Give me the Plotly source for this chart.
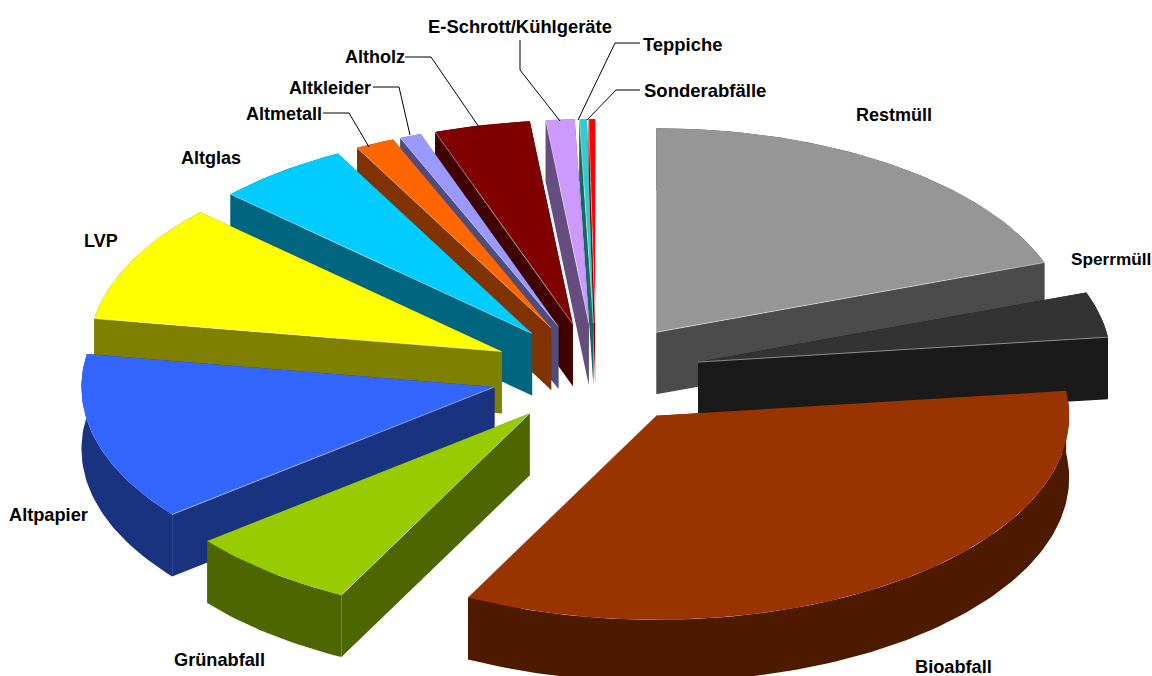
import math
import plotly.graph_objects as go

categories = ["Restmüll", "Sperrmüll", "Bioabfall", "Grünabfall", "Altpapier", "LVP", "Altglas",
              "Altmetall", "Altkleider", "Altholz", "E-Schrott/Kühlgeräte", "Teppiche", "Sonderabfälle"]
values = [19.45, 3.6, 34.48, 6.72, 13.33, 9.39, 5.24, 1.54, 0.84, 3.75, 1.12, 0.29, 0.25]
top_colors = ["#969696", "#333333", "#993300", "#99CC00", "#3366FF", "#FFFF00", "#00CCFF",
              "#FF6600", "#9999FF", "#800000", "#CC99FF", "#33CCCC", "#FF0000"]
side_colors = ["#4B4B4B", "#1A1A1A", "#4D1A00", "#4D6600", "#1A3380", "#808000", "#006680",
               "#803300", "#4D4D80", "#400000", "#664D80", "#1A6666", "#800000"]

label_x = [856, 1071, 915, 174, 9, 84, 181, 246, 289, 345, 428, 643, 644]
label_y = [115, 259, 667, 660, 515, 241, 158, 114, 88, 57, 26, 44, 90]
label_size = [18, 17.2, 18.2, 18.2, 18.2, 18, 18, 18, 18, 18, 18.4, 18.4, 18.5]
leaders = {
    "Altmetall": ([323, 349, 369], [113, 113, 147]),
    "Altkleider": ([373, 399, 410], [87, 87, 135]),
    "Altholz": ([405, 431, 479], [57, 57, 127]),
    "E-Schrott/Kühlgeräte": ([520, 520, 560], [40, 70, 121]),
    "Teppiche": ([640, 615, 578], [43, 43, 120]),
    "Sonderabfälle": ([640, 616, 587], [90, 90, 120]),
}

CX, CY, RX, RY = 596, 374, 413, 204
EX, EY, DEPTH = 105, 51, 62

total = sum(values)
fig = go.Figure()


def poly(xs, ys, color):
    fig.add_trace(go.Scatter(x=xs, y=ys, mode="lines", fill="toself", fillcolor=color,
                             line=dict(width=0, color=color), hoverinfo="skip", showlegend=False))


slices = []
cum = 0.0
for name, v, tc, sc in zip(categories, values, top_colors, side_colors):
    a0 = cum / total * 2 * math.pi
    cum += v
    a1 = cum / total * 2 * math.pi
    slices.append((name, a0, a1, tc, sc))

for name, a0, a1, tc, sc in sorted(slices, key=lambda s: -math.cos((s[1] + s[2]) / 2)):
    mid = (a0 + a1) / 2
    ax = CX + EX * math.sin(mid)
    ay = CY - EY * math.cos(mid)
    n = max(3, int((a1 - a0) / 0.02))
    arc = [a0 + (a1 - a0) * i / n for i in range(n + 1)]
    arc_x = [ax + RX * math.sin(t) for t in arc]
    arc_y = [ay - RY * math.cos(t) for t in arc]
    # radial walls
    for ex, ey in ((arc_x[0], arc_y[0]), (arc_x[-1], arc_y[-1])):
        poly([ax, ex, ex, ax, ax], [ay, ey, ey + DEPTH, ay + DEPTH, ay], sc)
    # outer wall
    poly(arc_x + arc_x[::-1] + [arc_x[0]],
         arc_y + [y + DEPTH for y in arc_y[::-1]] + [arc_y[0]], sc)
    # top face
    poly([ax] + arc_x + [ax], [ay] + arc_y + [ay], tc)
    # thin highlight along the visible top edge of the radial wall
    i = -1 if mid < math.pi else 0
    fig.add_trace(go.Scatter(x=[ax, arc_x[i]], y=[ay, arc_y[i]], mode="lines",
                             line=dict(color="rgba(255,255,255,0.6)", width=0.8),
                             hoverinfo="skip", showlegend=False))

for name, (lx, ly) in leaders.items():
    fig.add_trace(go.Scatter(x=lx, y=ly, mode="lines", line=dict(color="#000000", width=1),
                             hoverinfo="skip", showlegend=False))

annotations = [dict(x=x, y=y, text="<b>%s</b>" % t, xref="x", yref="y", xanchor="left", yanchor="middle",
                    showarrow=False, font=dict(family="Liberation Sans", size=s, color="#000000"),
                    borderpad=0, borderwidth=0)
               for t, x, y, s in zip(categories, label_x, label_y, label_size)]

fig.update_layout(
    width=1152, height=676, margin=dict(l=0, r=0, t=0, b=0),
    paper_bgcolor="#FFFFFF", plot_bgcolor="#FFFFFF", showlegend=False,
    xaxis=dict(range=[0, 1152], visible=False, fixedrange=True),
    yaxis=dict(range=[676, 0], visible=False, fixedrange=True),
    annotations=annotations,
)
fig.write_html("out.html", config={"displayModeBar": False},
               post_script="document.body.style.margin='0';document.documentElement.style.overflow='hidden';")
